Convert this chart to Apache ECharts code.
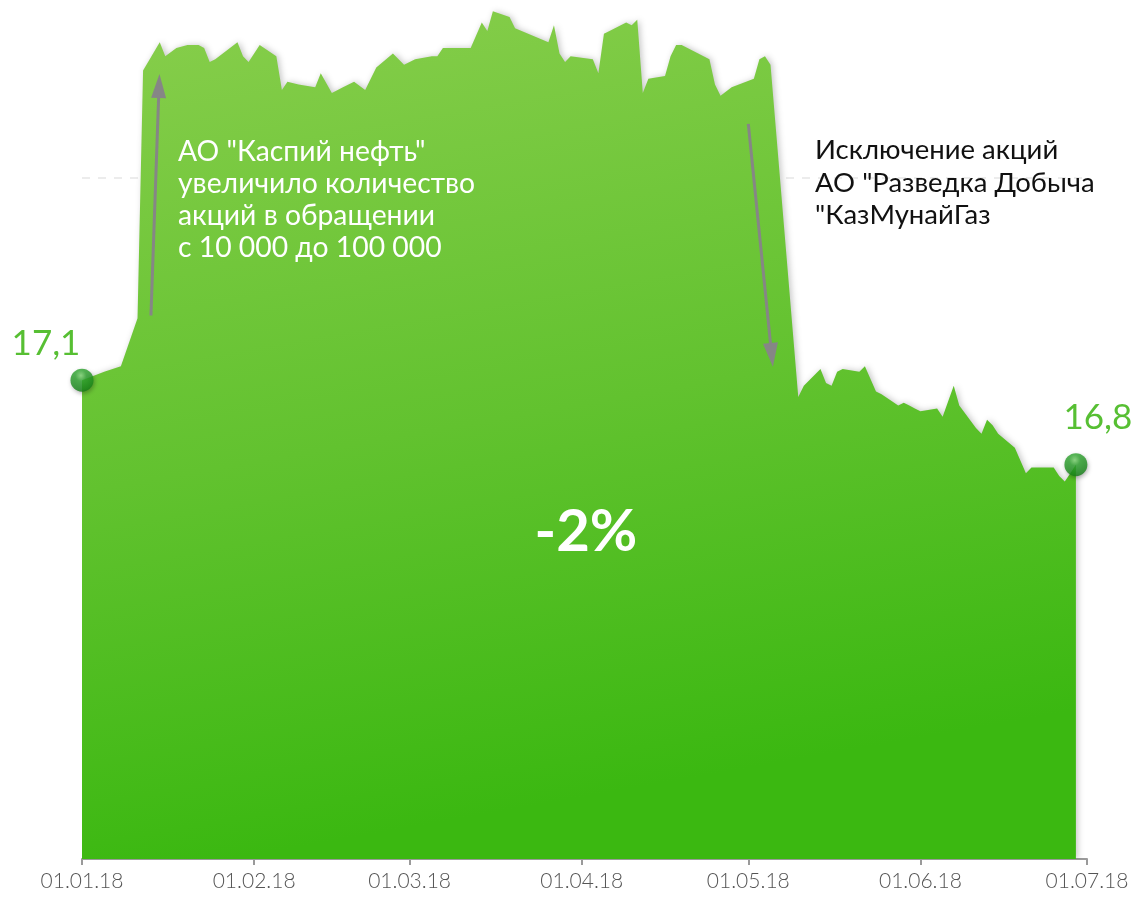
<!DOCTYPE html>
<html>
<head>
<meta charset="utf-8">
<script src="https://cdn.jsdelivr.net/npm/echarts@6/dist/echarts.min.js"></script>
<style>
  html, body { margin: 0; padding: 0; background: #fff; }
  #chart { width: 1141px; height: 901px; }
</style>
</head>
<body>
<div id="chart"></div>
<script>
// даты торгов
const dates = [
    '2018-01-01', '2018-01-05', '2018-01-08', '2018-01-11', '2018-01-12', '2018-01-15', '2018-01-16',
    '2018-01-18', '2018-01-20', '2018-01-22', '2018-01-23', '2018-01-24', '2018-01-25', '2018-01-29',
    '2018-01-30', '2018-01-31', '2018-02-02', '2018-02-05', '2018-02-06', '2018-02-07', '2018-02-09',
    '2018-02-12', '2018-02-13', '2018-02-15', '2018-02-17', '2018-02-19', '2018-02-21', '2018-02-23',
    '2018-02-26', '2018-02-28', '2018-03-02', '2018-03-05', '2018-03-06', '2018-03-07', '2018-03-12',
    '2018-03-14', '2018-03-15', '2018-03-16', '2018-03-19', '2018-03-20', '2018-03-26', '2018-03-27',
    '2018-03-28', '2018-03-29', '2018-03-30', '2018-04-03', '2018-04-04', '2018-04-05', '2018-04-06',
    '2018-04-09', '2018-04-10', '2018-04-11', '2018-04-12', '2018-04-13', '2018-04-16', '2018-04-17',
    '2018-04-18', '2018-04-19', '2018-04-24', '2018-04-25', '2018-04-26', '2018-04-28', '2018-05-02',
    '2018-05-03', '2018-05-04', '2018-05-05', '2018-05-10', '2018-05-11', '2018-05-14', '2018-05-15',
    '2018-05-16', '2018-05-17', '2018-05-18', '2018-05-21', '2018-05-22', '2018-05-24', '2018-05-25',
    '2018-05-28', '2018-05-29', '2018-05-30', '2018-05-31', '2018-06-01', '2018-06-04', '2018-06-05',
    '2018-06-07', '2018-06-08', '2018-06-11', '2018-06-12', '2018-06-13', '2018-06-14', '2018-06-15',
    '2018-06-18', '2018-06-20', '2018-06-21', '2018-06-25', '2018-06-26', '2018-06-27', '2018-06-28',
    '2018-06-29'
];

// цена
const prices = [
    17.10, 17.13, 17.15, 17.32, 18.20, 18.30, 18.25,
    18.28, 18.29, 18.29, 18.28, 18.23, 18.24, 18.30,
    18.25, 18.23, 18.29, 18.25, 18.13, 18.16, 18.15,
    18.14, 18.19, 18.12, 18.14, 18.16, 18.13, 18.21,
    18.26, 18.22, 18.24, 18.25, 18.25, 18.28, 18.28,
    18.37, 18.34, 18.41, 18.39, 18.35, 18.30, 18.36,
    18.26, 18.23, 18.25, 18.24, 18.19, 18.33, 18.34,
    18.37, 18.36, 18.38, 18.12, 18.17, 18.18, 18.25,
    18.29, 18.29, 18.24, 18.15, 18.11, 18.14, 18.17,
    18.24, 18.25, 18.22, 17.04, 17.08, 17.14, 17.09,
    17.08, 17.13, 17.14, 17.13, 17.15, 17.06, 17.05,
    17.01, 17.02, 17.01, 17.00, 16.99, 17.00, 16.97,
    17.08, 17.01, 16.93, 16.91, 16.96, 16.94, 16.91,
    16.86, 16.77, 16.79, 16.79, 16.76, 16.74, 16.77,
    16.80
];

const axisMin = '2018-01-01';
const axisMax = '2018-07-01';
const change = '-2%';

// подписи-пояснения
const noteLeft = 'АО "Каспий нефть"\nувеличило количество\nакций в обращении\nс 10 000 до 100 000';
const noteRight = 'Исключение акций\nАО "Разведка Добыча\n"КазМунайГаз';

// стрелки: [начало, конец]
const arrowUp = [['2018-01-13 10:00', 17.33], ['2018-01-14 21:00', 18.145]];
const arrowDown = [['2018-05-01 00:00', 18.01], ['2018-05-05 05:00', 17.19]];

const font = 'Lato, "Noto Sans", sans-serif';
const seriesData = dates.map((d, i) => [d, prices[i]]);
const last = seriesData.length - 1;

// глянцевый шарик
const ball = {
    type: 'radial', x: 0.45, y: 0.3, r: 0.8,
    colorStops: [
        {offset: 0, color: '#7fd873'},
        {offset: 0.3, color: '#2fa52f'},
        {offset: 0.75, color: '#1a8a1c'},
        {offset: 1, color: '#0f6a12'}
    ]
};

const fmt = v => String(v).replace('.', ',');

const myChart = echarts.init(document.getElementById('chart'));

const option = {
    animation: false,
    grid: {left: 82, right: 54, top: 0, bottom: 42},
    xAxis: {
        type: 'time',
        min: axisMin,
        max: axisMax,
        splitNumber: 6,
        axisLine: {lineStyle: {color: '#9a9a9a', width: 2}},
        axisTick: {show: true, length: 6, lineStyle: {color: '#9a9a9a', width: 2}},
        splitLine: {show: false},
        axisLabel: {
            formatter: '{dd}.{MM}.{yy}',
            color: '#555',
            fontFamily: font,
            fontWeight: 300,
            fontSize: 21,
            margin: 12,
            showMinLabel: true,
            showMaxLabel: true
        }
    },
    yAxis: {
        type: 'value',
        min: 15.4,
        max: 18.45,
        interval: 2.42,
        axisLine: {show: false},
        axisTick: {show: false},
        axisLabel: {show: false},
        splitLine: {
            showMinLine: false,
            showMaxLine: false,
            lineStyle: {color: '#e6e6e6', type: [8, 8], width: 1.5}
        }
    },
    series: [
        {
            type: 'line',
            data: seriesData,
            showSymbol: false,
            lineStyle: {width: 0},
            areaStyle: {
                opacity: 1,
                color: {
                    type: 'linear', x: 0, y: 0, x2: 0.15, y2: 1,
                    colorStops: [
                        {offset: 0, color: '#88ce4c'},
                        {offset: 0.55, color: '#62c22f'},
                        {offset: 1, color: '#3bb811'}
                    ]
                },
                shadowColor: 'rgba(0,0,0,0.22)',
                shadowBlur: 6,
                shadowOffsetX: 2
            },
            markLine: {
                silent: true,
                symbol: ['none', 'triangle'],
                symbolSize: [15, 24],
                label: {show: false},
                lineStyle: {color: '#868686', width: 3, type: 'solid'},
                emphasis: {disabled: true},
                data: [
                    [{coord: arrowUp[0]}, {coord: arrowUp[1]}],
                    [{coord: arrowDown[0]}, {coord: arrowDown[1]}]
                ]
            }
        },
        {
            type: 'scatter',
            z: 5,
            symbolSize: 23,
            itemStyle: {
                color: ball,
                shadowColor: 'rgba(0,0,0,0.35)',
                shadowBlur: 4,
                shadowOffsetX: 1,
                shadowOffsetY: 2
            },
            label: {
                show: true,
                position: 'top',
                distance: 4,
                color: '#2daf00',
                fontFamily: font,
                fontSize: 35,
                formatter: p => fmt(p.value[1])
            },
            data: [
                {value: seriesData[0], label: {offset: [-36, -3]}},
                {value: seriesData[last], label: {offset: [22, -14]}}
            ]
        }
    ],
    graphic: [
        {
            type: 'text', left: 178, top: 136, silent: true, z: 100,
            style: {text: noteLeft, fill: '#fff', font: '28.3px ' + font, lineHeight: 32}
        },
        {
            type: 'text', left: 815, top: 134, silent: true, z: 100,
            style: {text: noteRight, fill: '#111', font: '27.5px ' + font, lineHeight: 32.5}
        },
        {
            type: 'text', x: 586, y: 532, silent: true, z: 100,
            style: {
                text: change, fill: '#fff', font: 'bold 58px ' + font,
                align: 'center', verticalAlign: 'middle'
            }
        }
    ]
};

myChart.setOption(option);
window.addEventListener('resize', function () {
    myChart.resize();
});
</script>
</body>
</html>
